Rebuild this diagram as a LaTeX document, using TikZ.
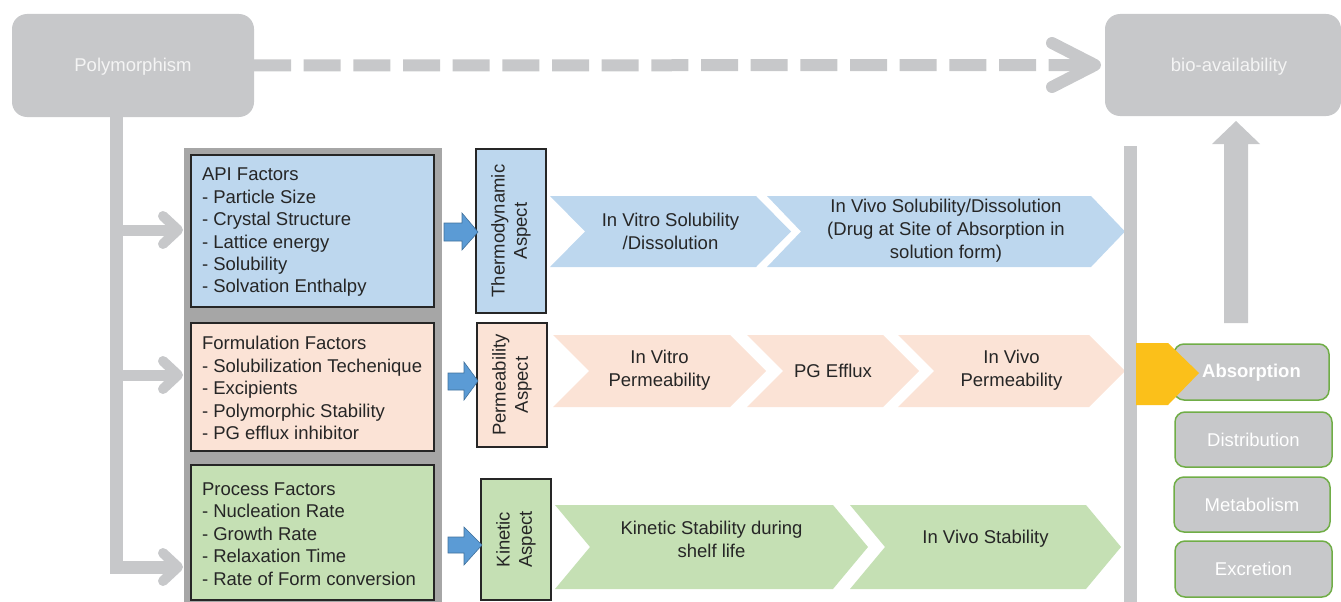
\documentclass[tikz,border=0pt]{standalone}
\usepackage{fontspec}
\setmainfont{Liberation Sans}
\usetikzlibrary{calc}

\definecolor{lgray}{HTML}{C7C8CA}
\definecolor{panelgray}{HTML}{A6A6A6}
\definecolor{bluef}{HTML}{BDD7EE}
\definecolor{peachf}{HTML}{FBE3D6}
\definecolor{greenf}{HTML}{C5E0B4}
\definecolor{arrowblue}{HTML}{5B9BD5}
\definecolor{arrowedge}{HTML}{41719C}
\definecolor{gold}{HTML}{FBC01A}
\definecolor{admeedge}{HTML}{70AD47}
\definecolor{ink}{HTML}{262626}
\definecolor{paletext}{HTML}{F4F4F4}

% one step of a chevron process row: name, left x, right-top x, top y, bottom y,
% point depth, fill colour, text, text y
\newcommand\procstep[9]{%
  \fill[#7] (#2,#4) -- (#3,#4) -- ({#3+#6},{(#4+#5)/2}) -- (#3,#5) -- (#2,#5)
    -- ({#2+#6},{(#4+#5)/2}) -- cycle;
  \node[steptext] (#1) at ({(#2+#3+#6)/2},#9) {#8};
}

\begin{document}
\begin{tikzpicture}[x=1pt,y=-1pt,
  every node/.style={font=\fontsize{18.5}{22.4}\selectfont, inner sep=0pt, outer sep=0pt},
  bigbox/.style={fill=lgray, rounded corners=15pt},
  factor/.style={draw=ink, line width=1.2pt, minimum width=243pt},
  factortext/.style={anchor=west, align=left, text=ink},
  aspectbox/.style={draw=ink, line width=1.2pt, rotate=90, align=center, text=ink},
  steptext/.style={align=center, text=ink, font=\fontsize{18.5}{23}\selectfont},
  adme/.style={fill=lgray, draw=admeedge, line width=1.5pt, rounded corners=10pt,
    text=white},
  trunk/.style={draw=lgray, line width=12pt},
  openhead/.style={draw=lgray, line width=10pt, line cap=round, line join=round},
  blockarrow/.style={fill=arrowblue, draw=arrowedge, line width=0.6pt},
]
\useasboundingbox (0,0) rectangle (1341,602);

% ---- top row: polymorphism -> bio-availability ----
\node[bigbox, minimum width=242pt, minimum height=103pt] (poly) at (133,65.5) {};
\node[text=paletext] (polytext) at (133,67) {Polymorphism};
\node[bigbox, minimum width=236pt, minimum height=102pt] (bio) at (1223,65) {};
\node[text=paletext] (biotext) at (1229,67) {bio-availability};

\coordinate (dashend) at ($(bio.west)+(-15,0)$);
\draw[lgray, line width=12pt, dash pattern=on 37pt off 12.67pt] (poly.east) -- (dashend);
\coordinate (biotip) at ($(bio.west)+(-10,0)$);
\draw[openhead, line width=12pt] ($(biotip)+(-43,-22)$) -- (biotip) -- ($(biotip)+(-43,22)$);

% ---- grey panel holding the three factor groups ----
\fill[panelgray] (184,148) rectangle (442,602);

\node[factor, fill=bluef, minimum height=152pt] (api) at (312.5,231) {};
\node[factortext] (apitext) at (202,232.5)
  {API Factors\\- Particle Size\\- Crystal Structure\\- Lattice energy\\- Solubility\\- Solvation Enthalpy};
\node[factor, fill=peachf, minimum height=128pt] (form) at (312.5,387) {};
\node[factortext] (formtext) at (202,388)
  {Formulation Factors\\- Solubilization Techenique\\- Excipients\\- Polymorphic Stability\\- PG efflux inhibitor};
\node[factor, fill=greenf, minimum height=135pt] (proc) at (312.5,532.5) {};
\node[factortext] (proctext) at (202,534)
  {Process Factors\\- Nucleation Rate\\- Growth Rate\\- Relaxation Time\\- Rate of Form conversion};

% ---- trunk from polymorphism down to the factor groups ----
\coordinate (trunktop) at (116.5,117);
\coordinate (tipapi) at (178,230);
\coordinate (tipform) at (178,375);
\coordinate (tipproc) at (178,567);
\draw[trunk, line width=13pt] (trunktop) |- (tipproc);
\draw[trunk, line width=11pt] (116.5,230) -- (tipapi);
\draw[trunk, line width=11pt] (116.5,375) -- (tipform);
\foreach \t in {tipapi,tipform,tipproc}
  \draw[openhead] ($(\t)+(-15,-14)$) -- (\t) -- ($(\t)+(-15,14)$);

% ---- aspect boxes ----
\node[aspectbox, fill=bluef, minimum width=164pt, minimum height=70pt]
  (thermo) at (511,231) {Thermodynamic\\Aspect};
\node[aspectbox, fill=peachf, minimum width=124pt, minimum height=70pt]
  (perm) at (512,385) {Permeability\\Aspect};
\node[aspectbox, fill=greenf, minimum width=121pt, minimum height=70pt]
  (kin) at (516,539.5) {Kinetic\\Aspect};

% ---- blue block arrows from factors to aspects ----
\draw[blockarrow] (444,223) -- (462,223) -- (462,213) -- (478,232) -- (462,250)
  -- (462,241) -- (444,241) -- cycle;
\draw[blockarrow] (448,373) -- (464,373) -- (464,362) -- (478,381) -- (464,400)
  -- (464,390) -- (448,390) -- cycle;
\draw[blockarrow] (448,537) -- (464,537) -- (464,527) -- (482,545) -- (464,565)
  -- (464,553) -- (448,553) -- cycle;

% ---- chevron process rows ----
\procstep{s1}{550}{756}{196}{267}{35}{bluef}{In Vitro Solubility\\/Dissolution}{231}
\procstep{s2}{767}{1091}{196}{267}{34}{bluef}{In Vivo Solubility/Dissolution\\(Drug at Site of Absorption in\\solution form)}{231}

\procstep{p1}{553}{730}{335}{407}{36}{peachf}{In Vitro\\Permeability}{370.5}
\procstep{p2}{747}{883}{335}{407}{36}{peachf}{PG Efflux}{370.5}
\procstep{p3}{898}{1089}{335}{407}{36}{peachf}{In Vivo\\Permeability}{370.5}

\procstep{k1}{555}{833}{505}{589}{35}{greenf}{Kinetic Stability during\\shelf life}{539}
\procstep{k2}{850}{1086}{505}{589}{35}{greenf}{In Vivo Stability}{539}

% ---- right side: barrier bar, ADME boxes, up arrow ----
\fill[lgray] (1124,146) rectangle (1137,602);
\fill[lgray] (1224,323) -- (1224,144) -- (1212,144) -- (1236,121) -- (1260,144)
  -- (1248,144) -- (1248,323) -- cycle;

\node[adme, minimum width=155pt, minimum height=56pt] (abs) at (1251.5,372) {};
\fill[gold] (1136,343) -- (1168,343) -- (1199,373) -- (1168,405) -- (1136,405) -- cycle;
\node[text=white, font=\fontsize{18.5}{22.4}\selectfont\bfseries] (abstext) at (1251.5,373) {Absorption};
\node[adme, minimum width=157pt, minimum height=55pt] (dist) at (1253.5,439.5) {Distribution};
\node[adme, minimum width=156pt, minimum height=55pt] (meta) at (1252,504.5) {Metabolism};
\node[adme, minimum width=157pt, minimum height=56pt] (excr) at (1253.5,569) {Excretion};
\end{tikzpicture}
\end{document}
